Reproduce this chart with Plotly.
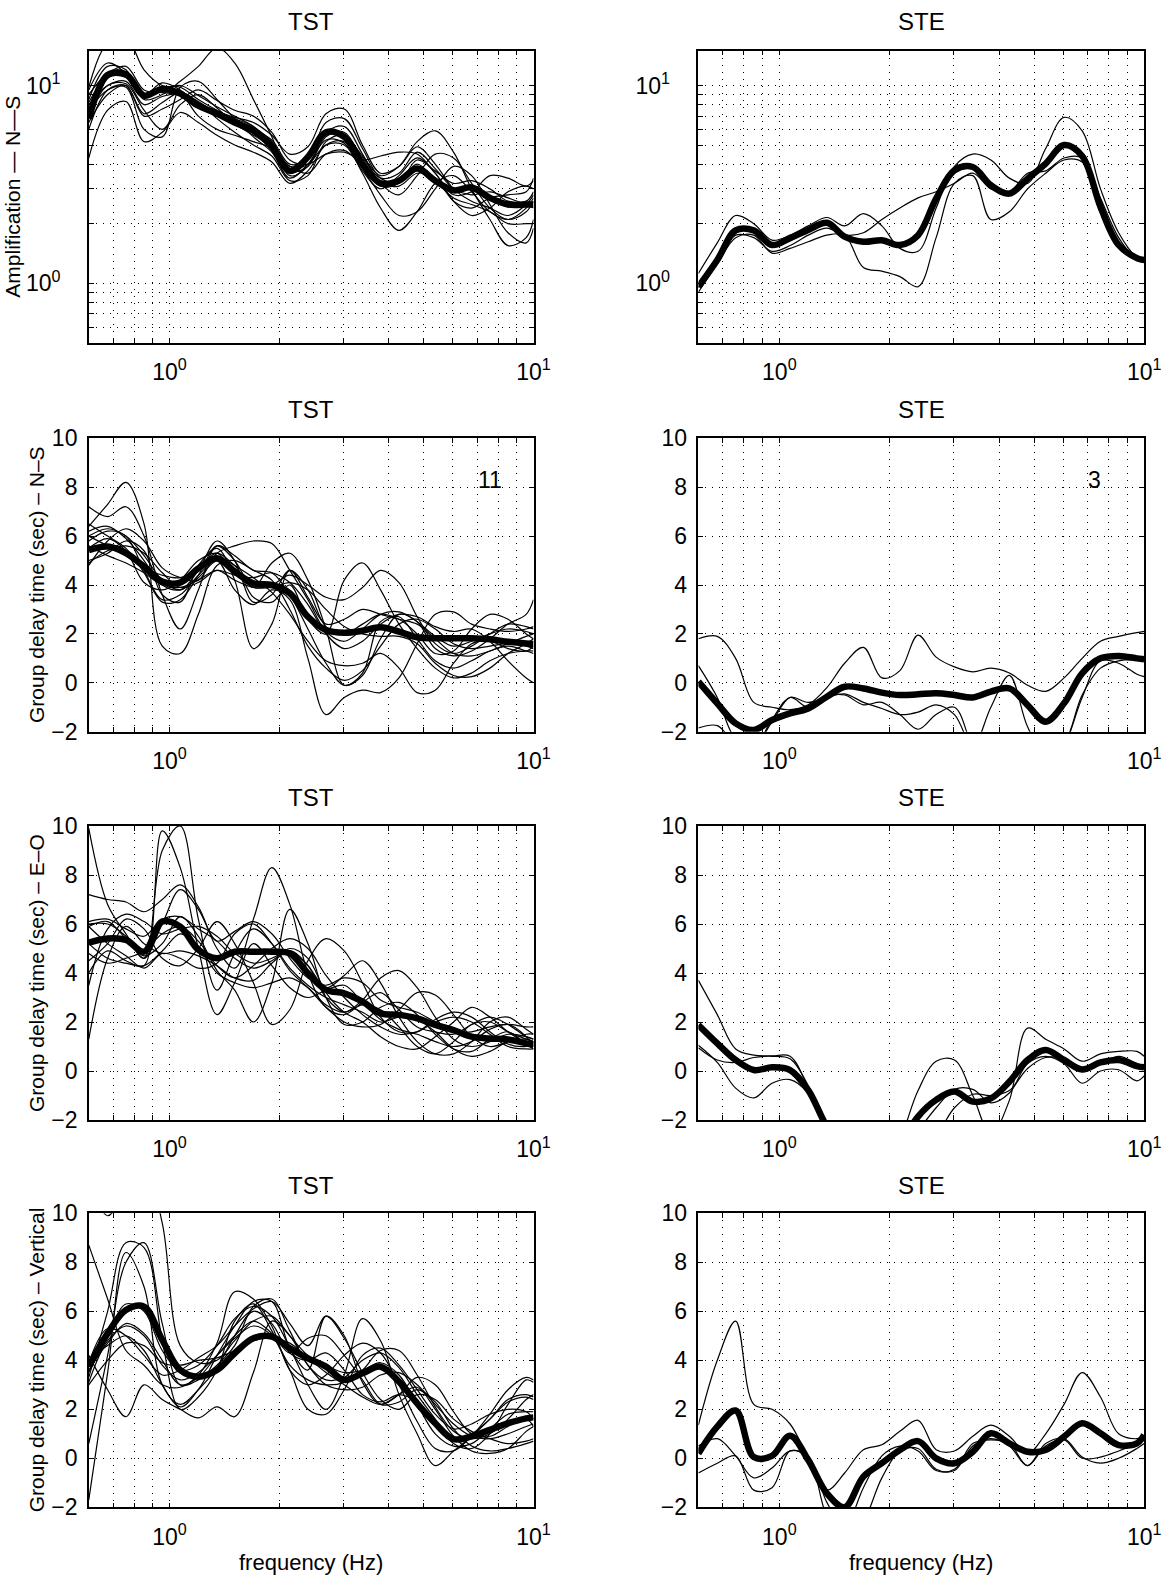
import plotly.graph_objects as go

# ---------------- data ----------------
freq = [0.6, 0.676, 0.759, 0.851, 0.955, 1.07, 1.20, 1.35, 1.51, 1.70, 1.91, 2.14, 2.40,
        2.69, 3.02, 3.39, 3.80, 4.27, 4.79, 5.37, 6.03, 6.76, 7.59, 8.51, 9.55, 10.0]

# Row 1: amplification N-S
tst_amp_mean = [6.8, 11.3, 11.4, 8.9, 9.6, 9.1, 7.9, 7.2, 6.5, 5.9, 4.9, 3.7, 4.35, 5.8, 5.5, 4.0,
                3.2, 3.3, 3.8, 3.3, 2.95, 3.05, 2.7, 2.5, 2.5, 2.5]
tst_amp_1 = [9.8, 16.5, 17.5, 12.0, 10.0, 9.8, 8.5, 7.5, 6.8, 6.2, 5.0, 3.9, 4.3, 5.6, 5.6, 4.3, 3.4, 3.6, 4.6, 3.8, 3.0, 2.8, 2.9, 2.7, 2.5, 2.4]
tst_amp_2 = [4.3, 7.5, 8.3, 5.2, 5.8, 7.3, 6.5, 5.6, 5.0, 4.6, 4.1, 3.2, 3.7, 5.0, 5.2, 3.8, 2.8, 2.2, 2.3, 3.0, 3.9, 3.5, 2.5, 1.8, 1.6, 1.9]
tst_amp_3 = [7.5, 9.5, 9.8, 6.0, 5.5, 9.8, 10.5, 8.5, 6.8, 5.5, 4.6, 3.4, 4.0, 5.3, 5.1, 3.7, 3.0, 3.5, 4.3, 3.6, 2.6, 2.2, 2.4, 2.9, 3.1, 3.0]
tst_amp_4 = [8.5, 12.5, 12.0, 8.5, 9.0, 10.5, 12.5, 15.5, 13.0, 8.5, 5.5, 3.5, 3.9, 5.8, 6.2, 4.5, 3.2, 2.8, 3.5, 4.5, 4.3, 3.2, 2.4, 2.1, 2.4, 2.7]
tst_amp_5 = [9.5, 13.0, 11.5, 9.0, 10.3, 9.5, 8.0, 7.4, 6.9, 6.5, 5.6, 4.5, 4.9, 7.2, 7.6, 5.0, 3.6, 3.9, 4.9, 4.0, 3.0, 2.6, 2.4, 2.2, 2.5, 2.8]
tst_amp_6 = [8.0, 10.0, 10.5, 8.0, 8.8, 9.0, 7.0, 6.0, 5.6, 5.2, 4.8, 3.8, 4.0, 5.0, 5.0, 3.6, 2.4, 1.85, 2.3, 3.2, 3.5, 2.9, 2.3, 2.1, 2.3, 2.6]
tst_amp_7 = [6.5, 9.0, 10.0, 7.0, 7.6, 8.5, 9.5, 8.4, 7.5, 7.0, 5.8, 4.2, 4.0, 4.5, 4.6, 4.2, 4.4, 4.6, 4.5, 3.6, 2.8, 2.9, 3.5, 3.4, 3.1, 3.3]
tst_amp_8 = [9.0, 11.5, 12.5, 9.5, 9.2, 9.0, 8.2, 6.8, 5.8, 5.0, 4.4, 3.3, 3.5, 5.2, 5.6, 4.4, 3.5, 3.9, 5.2, 5.9, 4.6, 3.0, 2.1, 1.55, 1.7, 2.1]
tst_amp_9 = [7.0, 10.0, 10.2, 7.5, 6.0, 8.0, 9.0, 7.7, 6.4, 5.6, 4.9, 3.9, 3.6, 4.5, 4.7, 3.9, 3.2, 3.1, 3.6, 3.4, 2.6, 2.4, 2.7, 2.8, 2.9, 3.4]
tst_amp_10 = [8.2, 11.0, 11.0, 9.0, 9.5, 10.0, 8.9, 7.8, 7.0, 6.2, 5.2, 3.7, 3.9, 5.5, 5.8, 4.2, 3.1, 3.2, 4.2, 3.7, 3.2, 3.3, 3.0, 2.6, 2.6, 2.9]
tst_amp_11 = [6.0, 9.5, 10.0, 7.2, 8.2, 9.2, 8.3, 7.2, 6.4, 6.0, 5.3, 4.0, 4.3, 6.5, 6.8, 4.8, 3.4, 3.3, 4.0, 3.3, 2.7, 2.5, 2.3, 2.0, 2.0, 2.0]

ste_amp_mean = [0.96, 1.31, 1.85, 1.85, 1.56, 1.69, 1.86, 2.02, 1.72, 1.62, 1.65, 1.56, 1.75, 2.68, 3.73,
                3.87, 3.13, 2.84, 3.38, 4.03, 5.0, 4.4, 2.43, 1.56, 1.34, 1.31]
ste_amp_1 = [1.12, 1.6, 2.2, 2.0, 1.65, 1.75, 1.95, 2.15, 1.95, 2.25, 1.95, 1.5, 1.45, 2.4, 3.9, 4.5, 4.2, 3.4, 3.2, 4.8, 6.9, 5.9, 3.0, 1.8, 1.35, 1.3]
ste_amp_2 = [0.9, 1.25, 1.7, 1.75, 1.42, 1.5, 1.62, 1.75, 1.75, 1.2, 1.15, 1.08, 0.96, 1.7, 3.2, 3.5, 2.1, 2.3, 3.0, 3.6, 4.2, 4.1, 2.6, 1.6, 1.3, 1.28]
ste_amp_3 = [0.95, 1.3, 1.75, 1.7, 1.45, 1.55, 1.75, 1.9, 1.75, 1.8, 2.1, 2.4, 2.7, 2.9, 3.2, 3.6, 3.0, 2.9, 3.6, 3.7, 4.3, 4.3, 2.7, 1.7, 1.32, 1.28]

# Row 2: group delay N-S
tst_ns_mean = [5.43, 5.57, 5.3, 4.75, 4.14, 4.1, 4.68, 5.09, 4.55, 4.07, 4.0, 3.66, 2.7, 2.16, 2.05, 2.13,
               2.27, 2.09, 1.86, 1.82, 1.82, 1.82, 1.78, 1.68, 1.61, 1.59]
tst_ns_1 = [6.4, 7.3, 8.2, 6.5, 1.5, 1.2, 2.8, 4.8, 5.0, 4.6, 4.2, 3.0, 1.5, 0.6, 0.1, 0.5, 1.5, 2.4, 2.6, 2.2, 1.6, 1.4, 1.5, 1.6, 1.5, 1.4]
tst_ns_2 = [7.2, 6.8, 7.2, 6.0, 3.6, 2.2, 3.8, 5.6, 5.2, 4.6, 4.5, 3.6, 2.2, 0.8, -0.1, 0.3, 1.8, 2.8, 2.5, 1.4, 1.1, 1.3, 1.8, 2.4, 2.8, 3.4]
tst_ns_3 = [6.0, 6.3, 6.0, 5.2, 4.2, 3.8, 4.6, 5.8, 5.0, 3.3, 3.6, 4.6, 3.5, 2.4, 2.6, 3.0, 2.8, 2.6, 2.4, 1.8, 1.2, 1.1, 1.3, 1.6, 1.9, 2.0]
tst_ns_4 = [5.0, 5.3, 5.8, 5.4, 3.6, 3.3, 4.8, 5.5, 4.2, 1.4, 2.4, 4.6, 3.8, 2.3, 2.0, 2.4, 2.8, 2.6, 2.0, 1.2, 1.3, 2.2, 2.8, 2.6, 2.0, 1.8]
tst_ns_5 = [6.5, 6.0, 5.5, 4.5, 3.3, 3.4, 4.4, 5.6, 5.0, 3.9, 4.9, 5.3, 4.2, 2.2, -0.1, 0.4, 2.5, 2.7, 1.8, 0.9, 0.6, 0.9, 1.3, 1.5, 1.3, 1.2]
tst_ns_6 = [5.8, 6.2, 6.0, 4.6, 3.4, 3.6, 4.4, 5.0, 3.8, 3.2, 3.8, 3.4, 1.0, -1.3, -0.6, -0.3, -0.4, 0.2, 1.6, 2.8, 2.9, 2.4, 2.2, 2.1, 2.2, 2.3]
tst_ns_7 = [4.8, 5.8, 6.3, 5.8, 4.7, 4.3, 4.2, 5.3, 5.6, 5.8, 5.7, 4.6, 3.4, 2.1, 1.7, 2.2, 2.8, 2.9, 2.5, 1.9, 1.5, 1.7, 2.0, 2.2, 2.1, 2.0]
tst_ns_8 = [6.2, 6.4, 5.9, 5.0, 4.0, 3.8, 4.3, 5.0, 4.8, 3.5, 3.3, 4.0, 2.6, 2.0, 4.2, 4.9, 3.8, 2.4, 1.4, 0.6, 0.2, 0.4, 0.9, 1.2, 1.3, 1.3]
tst_ns_9 = [5.5, 5.9, 5.4, 4.1, 3.8, 4.2, 5.0, 5.3, 4.5, 3.9, 4.0, 4.4, 4.0, 3.5, 3.4, 3.9, 4.6, 4.1, 2.7, 1.6, 1.2, 1.5, 2.0, 2.4, 2.3, 2.2]
tst_ns_10 = [6.0, 5.6, 5.2, 4.7, 4.4, 4.3, 4.7, 5.3, 4.8, 4.3, 3.7, 2.8, 1.7, 0.9, 0.7, 0.8, 1.2, 0.6, -0.4, -0.3, 0.8, 1.6, 1.7, 1.4, 1.3, 1.5]
tst_ns_11 = [5.6, 5.2, 4.9, 4.5, 4.0, 3.9, 4.2, 4.6, 4.2, 3.9, 3.9, 4.1, 3.8, 3.0, 2.3, 2.0, 1.9, 1.9, 1.6, 0.8, 0.3, 0.25, 0.6, 1.2, 1.6, 1.8]
tst_ns_12 = [4.9, 5.4, 5.6, 5.3, 4.5, 3.9, 4.1, 4.6, 4.4, 4.3, 4.5, 4.1, 3.2, 2.0, 1.4, 1.7, 2.4, 2.8, 2.7, 2.3, 2.1, 2.2, 1.7, 0.9, 0.2, 0.0]

ste_ns_mean = [0.05, -0.84, -1.66, -1.93, -1.52, -1.25, -1.05, -0.57, -0.16, -0.23, -0.4, -0.5, -0.47, -0.43,
               -0.5, -0.6, -0.36, -0.23, -0.91, -1.59, -0.84, 0.39, 1.0, 1.1, 1.0, 0.96]
ste_ns_1 = [1.8, 1.9, 1.0, -0.8, -1.0, -1.1, -0.9, -0.2, 0.8, 1.45, 0.2, 0.5, 1.95, 1.05, 0.65, 0.45, 0.6, 0.4, -0.1, -0.35, 0.2, 1.0, 1.7, 1.9, 2.05, 2.1]
ste_ns_2 = [0.7, -0.6, -2.3, -2.6, -1.5, -0.6, -1.0, -0.55, -0.5, -0.9, -0.8, -1.3, -1.9, -1.3, -1.0, -2.6, -3.5, -4.0, -4.0, -3.5, -2.6, -0.6, 0.9, 0.8, 0.35, 0.25]
ste_ns_3 = [-1.85, -1.75, -2.5, -2.6, -1.6, -0.6, -0.8, -0.6, -0.45, -0.8, -1.05, -1.3, -1.2, -0.9, -1.3, -2.6, -1.0, 0.3, -1.8, -3.0, -2.5, -0.5, 0.6, 0.9, 0.95, 0.95]

# Row 3: group delay E-O
tst_eo_mean = [5.24, 5.41, 5.35, 4.87, 6.1, 5.89, 4.95, 4.6, 4.87, 4.87, 4.87, 4.8, 3.99, 3.31, 3.17, 2.83,
               2.35, 2.29, 2.15, 1.88, 1.67, 1.4, 1.33, 1.29, 1.13, 1.06]
tst_eo_1 = [9.9, 6.8, 5.6, 4.6, 6.0, 7.4, 6.6, 5.3, 5.7, 6.1, 5.6, 4.6, 3.8, 3.5, 3.8, 3.6, 2.9, 2.6, 2.4, 2.0, 1.6, 1.6, 1.8, 1.9, 1.8, 1.8]
tst_eo_2 = [1.3, 4.6, 5.9, 5.2, 4.8, 4.9, 4.7, 4.3, 3.8, 3.7, 4.4, 4.9, 4.3, 3.0, 2.4, 2.7, 2.5, 1.8, 1.0, 0.7, 1.2, 1.9, 2.0, 1.6, 1.3, 1.2]
tst_eo_3 = [6.0, 6.0, 5.5, 4.6, 9.0, 10.0, 6.2, 3.3, 4.8, 5.8, 5.2, 4.2, 3.5, 3.0, 2.7, 2.4, 2.0, 2.2, 2.1, 1.6, 0.9, 0.6, 0.8, 1.2, 1.3, 1.2]
tst_eo_4 = [4.0, 4.9, 4.5, 4.3, 9.8, 8.3, 5.0, 2.3, 3.6, 5.2, 4.3, 3.4, 3.0, 3.3, 3.5, 2.8, 2.1, 1.7, 1.5, 1.2, 1.0, 1.2, 1.7, 1.9, 1.4, 1.0]
tst_eo_5 = [7.2, 7.0, 6.9, 6.5, 7.0, 7.6, 6.7, 5.0, 4.2, 6.2, 8.3, 6.8, 4.0, 2.6, 2.3, 2.8, 3.2, 2.5, 1.8, 1.6, 1.5, 1.9, 2.2, 1.9, 1.4, 1.3]
tst_eo_6 = [5.9, 6.1, 5.4, 4.7, 5.2, 6.3, 5.5, 4.1, 3.3, 2.0, 3.6, 6.6, 5.2, 3.0, 1.9, 2.0, 2.6, 2.8, 2.3, 1.5, 0.9, 0.8, 1.3, 1.6, 1.1, 1.0]
tst_eo_7 = [4.5, 5.2, 6.2, 5.8, 4.6, 4.3, 5.0, 6.1, 5.2, 3.6, 1.9, 2.5, 4.5, 5.4, 4.9, 3.6, 2.2, 1.6, 1.6, 2.0, 2.2, 2.0, 1.5, 1.0, 0.9, 0.9]
tst_eo_8 = [3.5, 5.8, 6.4, 6.1, 5.6, 5.8, 5.9, 5.5, 4.8, 4.4, 4.6, 4.9, 4.3, 3.4, 3.9, 4.5, 3.6, 2.2, 1.2, 0.7, 0.7, 1.2, 2.0, 2.2, 1.7, 1.5]
tst_eo_9 = [5.2, 4.6, 4.4, 4.3, 4.9, 5.6, 5.1, 4.0, 3.6, 3.4, 3.6, 3.8, 3.4, 2.7, 2.4, 2.9, 3.8, 4.1, 3.4, 2.2, 1.3, 1.0, 1.2, 1.5, 1.4, 1.3]
tst_eo_10 = [5.9, 5.2, 4.7, 4.2, 4.8, 4.6, 4.2, 4.4, 5.6, 6.0, 5.2, 4.1, 3.4, 2.6, 2.0, 1.8, 1.9, 2.5, 3.2, 3.1, 2.3, 1.4, 1.0, 1.2, 1.5, 1.5]
tst_eo_11 = [6.1, 6.2, 5.8, 5.5, 6.2, 6.3, 5.8, 5.3, 4.6, 4.2, 4.5, 5.0, 4.6, 3.2, 2.4, 2.0, 1.4, 1.0, 0.9, 1.4, 2.0, 2.6, 2.2, 1.6, 1.1, 0.9]
tst_eo_12 = [4.8, 4.4, 4.6, 4.9, 5.6, 5.9, 5.3, 4.3, 3.8, 4.3, 5.0, 5.4, 5.0, 3.9, 3.0, 2.3, 1.8, 1.5, 1.6, 2.1, 2.4, 2.2, 1.6, 1.1, 1.0, 1.1]

ste_eo_mean = [1.88, 1.13, 0.45, 0.04, 0.15, 0.04, -0.78, -2.27, -3.2, -4.0, -4.0, -3.0, -1.86, -1.18, -0.84,
               -1.25, -1.12, -0.44, 0.45, 0.86, 0.45, 0.06, 0.35, 0.45, 0.2, 0.15]
ste_eo_1 = [3.7, 2.3, 0.9, 0.65, 0.62, 0.6, -0.7, -2.5, -4.0, -4.0, -4.0, -2.8, -0.8, 0.4, 0.45, -1.0, -2.6, -1.2, 1.75, 1.3, 0.9, 0.4, 0.7, 0.8, 0.8, 0.6]
ste_eo_2 = [1.05, 0.35, -0.7, -1.1, -0.5, -0.35, -0.9, -2.3, -4.0, -4.0, -4.0, -3.0, -2.4, -1.5, -0.75, -0.75, -1.3, -0.9, 0.3, 0.6, 0.3, -0.5, 0.0, 0.05, -0.4, -0.2]
ste_eo_3 = [0.95, 0.45, 0.35, 0.55, 0.6, 0.5, -0.6, -2.4, -4.0, -4.0, -4.0, -3.5, -3.0, -2.6, -1.5, -0.95, -1.0, -0.8, 0.1, 0.55, 0.5, 0.1, 0.3, 0.6, 0.3, 0.15]

# Row 4: group delay vertical
tst_v_mean = [3.74, 5.1, 6.05, 6.19, 4.83, 3.6, 3.33, 3.6, 4.29, 4.9, 4.97, 4.49, 4.08, 3.74, 3.2, 3.47,
              3.74, 3.13, 2.24, 1.43, 0.78, 0.9, 1.16, 1.43, 1.63, 1.67]
tst_v_1 = [11.5, 9.9, 11.0, 12.0, 9.6, 4.6, 3.9, 4.0, 4.8, 5.6, 5.8, 5.0, 4.2, 3.8, 3.5, 3.6, 3.9, 3.4, 2.2, 1.0, 0.5, 0.6, 1.2, 1.8, 1.9, 1.9]
tst_v_2 = [-1.7, 3.5, 8.4, 7.0, 3.0, 2.2, 2.8, 3.7, 5.0, 6.0, 5.5, 4.3, 4.0, 4.3, 3.6, 2.6, 2.3, 2.6, 2.3, 1.5, 0.8, 1.0, 1.6, 2.4, 2.6, 2.5]
tst_v_3 = [3.3, 6.0, 8.8, 8.6, 4.8, 2.0, 2.5, 3.6, 5.6, 6.3, 5.2, 3.8, 3.2, 3.0, 3.1, 3.6, 4.4, 4.4, 3.4, 2.1, 1.1, 0.8, 1.0, 1.6, 2.4, 2.6]
tst_v_4 = [0.6, 4.2, 8.0, 8.8, 5.5, 3.0, 3.2, 3.8, 4.6, 6.2, 6.5, 5.2, 3.8, 3.2, 3.3, 4.0, 4.3, 3.7, 2.6, 1.6, 0.6, 0.4, 1.0, 2.2, 3.2, 3.1]
tst_v_5 = [4.2, 2.8, 1.7, 3.0, 2.4, 2.0, 1.65, 2.1, 1.7, 3.5, 5.6, 5.0, 3.8, 3.0, 2.8, 2.9, 3.4, 3.5, 3.0, 2.2, 1.4, 0.9, 0.8, 1.0, 1.3, 1.4]
tst_v_6 = [8.7, 6.5, 4.4, 3.8, 3.0, 2.9, 3.4, 4.7, 6.8, 6.5, 5.4, 3.6, 3.0, 3.4, 4.2, 4.7, 4.3, 3.0, 1.5, 0.4, 0.3, 0.9, 1.6, 2.3, 2.5, 2.4]
tst_v_7 = [4.0, 4.6, 5.0, 4.4, 3.0, 2.1, 2.8, 4.2, 5.4, 6.4, 6.4, 4.5, 3.6, 5.8, 5.0, 3.1, 2.2, 2.6, 3.3, 3.0, 1.9, 1.0, 0.9, 1.3, 1.6, 1.3]
tst_v_8 = [3.5, 5.0, 6.3, 6.0, 4.4, 3.6, 3.8, 4.6, 5.7, 6.2, 5.8, 4.5, 3.0, 2.0, 3.4, 5.7, 4.8, 2.6, 1.0, -0.3, 0.3, 0.9, 1.8, 2.8, 3.3, 3.2]
tst_v_9 = [3.1, 4.8, 5.4, 5.0, 3.8, 3.2, 3.5, 4.2, 4.9, 5.4, 5.0, 3.6, 2.0, 1.8, 2.8, 4.2, 4.5, 3.8, 2.8, 1.8, 1.2, 1.4, 1.8, 2.0, 1.9, 1.6]
tst_v_10 = [3.9, 5.3, 5.0, 4.2, 3.4, 3.6, 4.1, 4.6, 5.4, 6.1, 6.4, 5.5, 4.6, 5.8, 4.9, 3.5, 2.4, 2.0, 2.6, 2.4, 1.6, 1.1, 0.8, 0.6, 0.7, 0.8]
tst_v_11 = [3.6, 4.7, 5.5, 5.1, 4.0, 3.0, 3.3, 4.2, 5.0, 5.6, 5.1, 4.3, 4.9, 5.0, 4.2, 3.2, 2.2, 2.3, 2.8, 2.3, 1.2, 0.5, 0.3, 0.4, 0.6, 0.7]
tst_v_12 = [3.0, 4.0, 4.7, 4.6, 3.9, 3.8, 4.0, 4.1, 4.4, 4.8, 4.9, 4.7, 4.1, 3.5, 3.0, 2.5, 2.2, 2.6, 2.9, 2.0, 0.9, 0.3, 0.2, 0.4, 1.1, 1.3]

ste_v_mean = [0.2, 1.29, 1.95, 0.05, 0.1, 0.92, -0.07, -1.43, -2.0, -0.75, -0.2, 0.34, 0.7, 0.0, -0.2,
              0.27, 1.02, 0.61, 0.27, 0.34, 0.88, 1.43, 1.02, 0.54, 0.61, 0.95]
ste_v_1 = [1.36, 4.0, 5.6, 2.2, 2.0, 1.4, 0.0, -1.3, -0.6, 0.35, 0.55, 1.1, 1.55, 0.35, 0.3, 0.9, 1.35, 0.9, 0.2, 1.0, 2.2, 3.5, 2.5, 1.0, 0.8, 0.9]
ste_v_2 = [-0.6, -0.2, 0.1, -1.3, -1.2, 0.3, 0.0, -2.4, -3.5, -2.6, -0.8, 0.3, 0.4, -0.45, -0.5, 0.5, 0.8, 0.5, -0.3, 0.6, 0.8, 0.05, -0.2, 0.0, 0.4, 0.6]
ste_v_3 = [0.5, 0.8, 0.1, -0.8, -0.4, 0.3, 0.1, -1.8, -2.8, -1.2, 0.1, 0.5, 0.3, -0.5, -0.45, 0.6, 0.75, 0.6, -0.3, 0.5, 0.75, 0.0, 0.05, 0.3, 0.6, 0.75]

titles = ["TST", "STE"]
ylabels = ["Amplification — N—S", "Group delay time (sec) – N–S",
           "Group delay time (sec) – E–O", "Group delay time (sec) – Vertical"]
xlabel = "frequency (Hz)"
count_notes = ["11", "3"]

x_tickvals = [0.6, 0.7, 0.8, 0.9, 1, 2, 3, 4, 5, 6, 7, 8, 9, 10]
x_ticktext = ["", "", "", "", "10<sup>0</sup>", "", "", "", "", "", "", "", "", "10<sup>1</sup>"]
amp_tickvals = [0.5, 0.6, 0.7, 0.8, 0.9, 1, 2, 3, 4, 5, 6, 7, 8, 9, 10]
amp_ticktext = ["", "", "", "", "", "10<sup>0</sup>", "", "", "", "", "", "", "", "", "10<sup>1</sup>"]
gd_tickvals = [-2, 0, 2, 4, 6, 8, 10]

panels = [
    ([tst_amp_1, tst_amp_2, tst_amp_3, tst_amp_4, tst_amp_5, tst_amp_6, tst_amp_7, tst_amp_8,
      tst_amp_9, tst_amp_10, tst_amp_11], tst_amp_mean),
    ([ste_amp_1, ste_amp_2, ste_amp_3], ste_amp_mean),
    ([tst_ns_1, tst_ns_2, tst_ns_3, tst_ns_4, tst_ns_5, tst_ns_6, tst_ns_7, tst_ns_8, tst_ns_9,
      tst_ns_10, tst_ns_11, tst_ns_12], tst_ns_mean),
    ([ste_ns_1, ste_ns_2, ste_ns_3], ste_ns_mean),
    ([tst_eo_1, tst_eo_2, tst_eo_3, tst_eo_4, tst_eo_5, tst_eo_6, tst_eo_7, tst_eo_8, tst_eo_9,
      tst_eo_10, tst_eo_11, tst_eo_12], tst_eo_mean),
    ([ste_eo_1, ste_eo_2, ste_eo_3], ste_eo_mean),
    ([tst_v_1, tst_v_2, tst_v_3, tst_v_4, tst_v_5, tst_v_6, tst_v_7, tst_v_8, tst_v_9, tst_v_10,
      tst_v_11, tst_v_12], tst_v_mean),
    ([ste_v_1, ste_v_2, ste_v_3], ste_v_mean),
]

# ---------------- layout geometry (pixels) ----------------
W, H = 1164, 1579
col_px = [(88.8, 533.5), (698.4, 1144.2)]
row_px = [(50.7, 342.7), (438.3, 731.7), (826, 1120), (1213.3, 1507.3)]
title_y_px = [22, 409.5, 797, 1185]
ylabel_x_px = [13, 36, 36, 36]
ylabel_size = [21, 21, 21, 21]

FONT = "Liberation Sans, Arial, Helvetica, sans-serif"

fig = go.Figure()
layout = dict(
    width=W, height=H, autosize=False,
    margin=dict(l=0, r=0, t=0, b=0, autoexpand=False),
    paper_bgcolor="white", plot_bgcolor="white",
    showlegend=False,
    font=dict(family=FONT, size=23, color="black"),
    annotations=[],
)

for k, (thin, mean) in enumerate(panels):
    r, c = divmod(k, 2)
    ax = "" if k == 0 else str(k + 1)
    xref, yref = "x" + ax, "y" + ax
    for s in thin:
        fig.add_trace(go.Scatter(x=freq, y=s, mode="lines", xaxis=xref, yaxis=yref,
                                 line=dict(color="black", width=1.2, shape="spline", smoothing=1.0),
                                 hoverinfo="skip"))
    fig.add_trace(go.Scatter(x=freq, y=mean, mode="lines", xaxis=xref, yaxis=yref,
                             line=dict(color="black", width=6.5, shape="spline", smoothing=1.0),
                             hoverinfo="skip"))

    x0, x1 = col_px[c]
    y0, y1 = row_px[r]
    common = dict(showline=True, linecolor="black", linewidth=1.5, mirror="ticks",
                  ticks="inside", ticklen=5, tickwidth=1, tickcolor="black",
                  showgrid=True, gridcolor="black", gridwidth=1, griddash="1px,6px",
                  zeroline=False, tickfont=dict(family=FONT, size=23, color="black"))
    xa = dict(common, type="log", range=[-0.2218, 1.0], domain=[x0 / W, x1 / W],
              tickmode="array", tickvals=x_tickvals, ticktext=x_ticktext,
              ticklabelstandoff=8, anchor=yref)
    if r == 0:
        ya = dict(common, type="log", range=[-0.30103, 1.1761], tickmode="array",
                  tickvals=amp_tickvals, ticktext=amp_ticktext, ticklabelstandoff=22)
    else:
        ya = dict(common, type="linear", range=[-2, 10], tickmode="array",
                  tickvals=gd_tickvals, ticklabelstandoff=5)
    ya.update(domain=[1 - y1 / H, 1 - y0 / H], anchor=xref)
    layout["xaxis" + ax] = xa
    layout["yaxis" + ax] = ya

    # subplot title
    layout["annotations"].append(dict(
        text=titles[c], xref="paper", yref="paper", x=(x0 + x1) / 2 / W,
        y=1 - title_y_px[r] / H, xanchor="center", yanchor="middle", showarrow=False,
        font=dict(family=FONT, size=24, color="black")))
    if c == 0:
        layout["annotations"].append(dict(
            text=ylabels[r], xref="paper", yref="paper", x=ylabel_x_px[r] / W,
            y=1 - (y0 + y1) / 2 / H, xanchor="center", yanchor="middle", textangle=-90,
            showarrow=False, font=dict(family=FONT, size=ylabel_size[r], color="black")))
    if r == 3:
        layout["annotations"].append(dict(
            text=xlabel, xref="paper", yref="paper", x=(x0 + x1) / 2 / W,
            y=1 - 1562 / H, xanchor="center", yanchor="middle", showarrow=False,
            font=dict(family=FONT, size=22, color="black")))
    if r == 1:
        nx = [490, 1094][c]
        layout["annotations"].append(dict(
            text=count_notes[c], xref="paper", yref="paper", x=nx / W, y=1 - 480 / H,
            xanchor="center", yanchor="middle", showarrow=False,
            font=dict(family=FONT, size=23, color="black")))

fig.update_layout(**layout)
fig.write_html("out.html",
               post_script="document.body.style.margin='0px';document.body.style.overflow='hidden';")
